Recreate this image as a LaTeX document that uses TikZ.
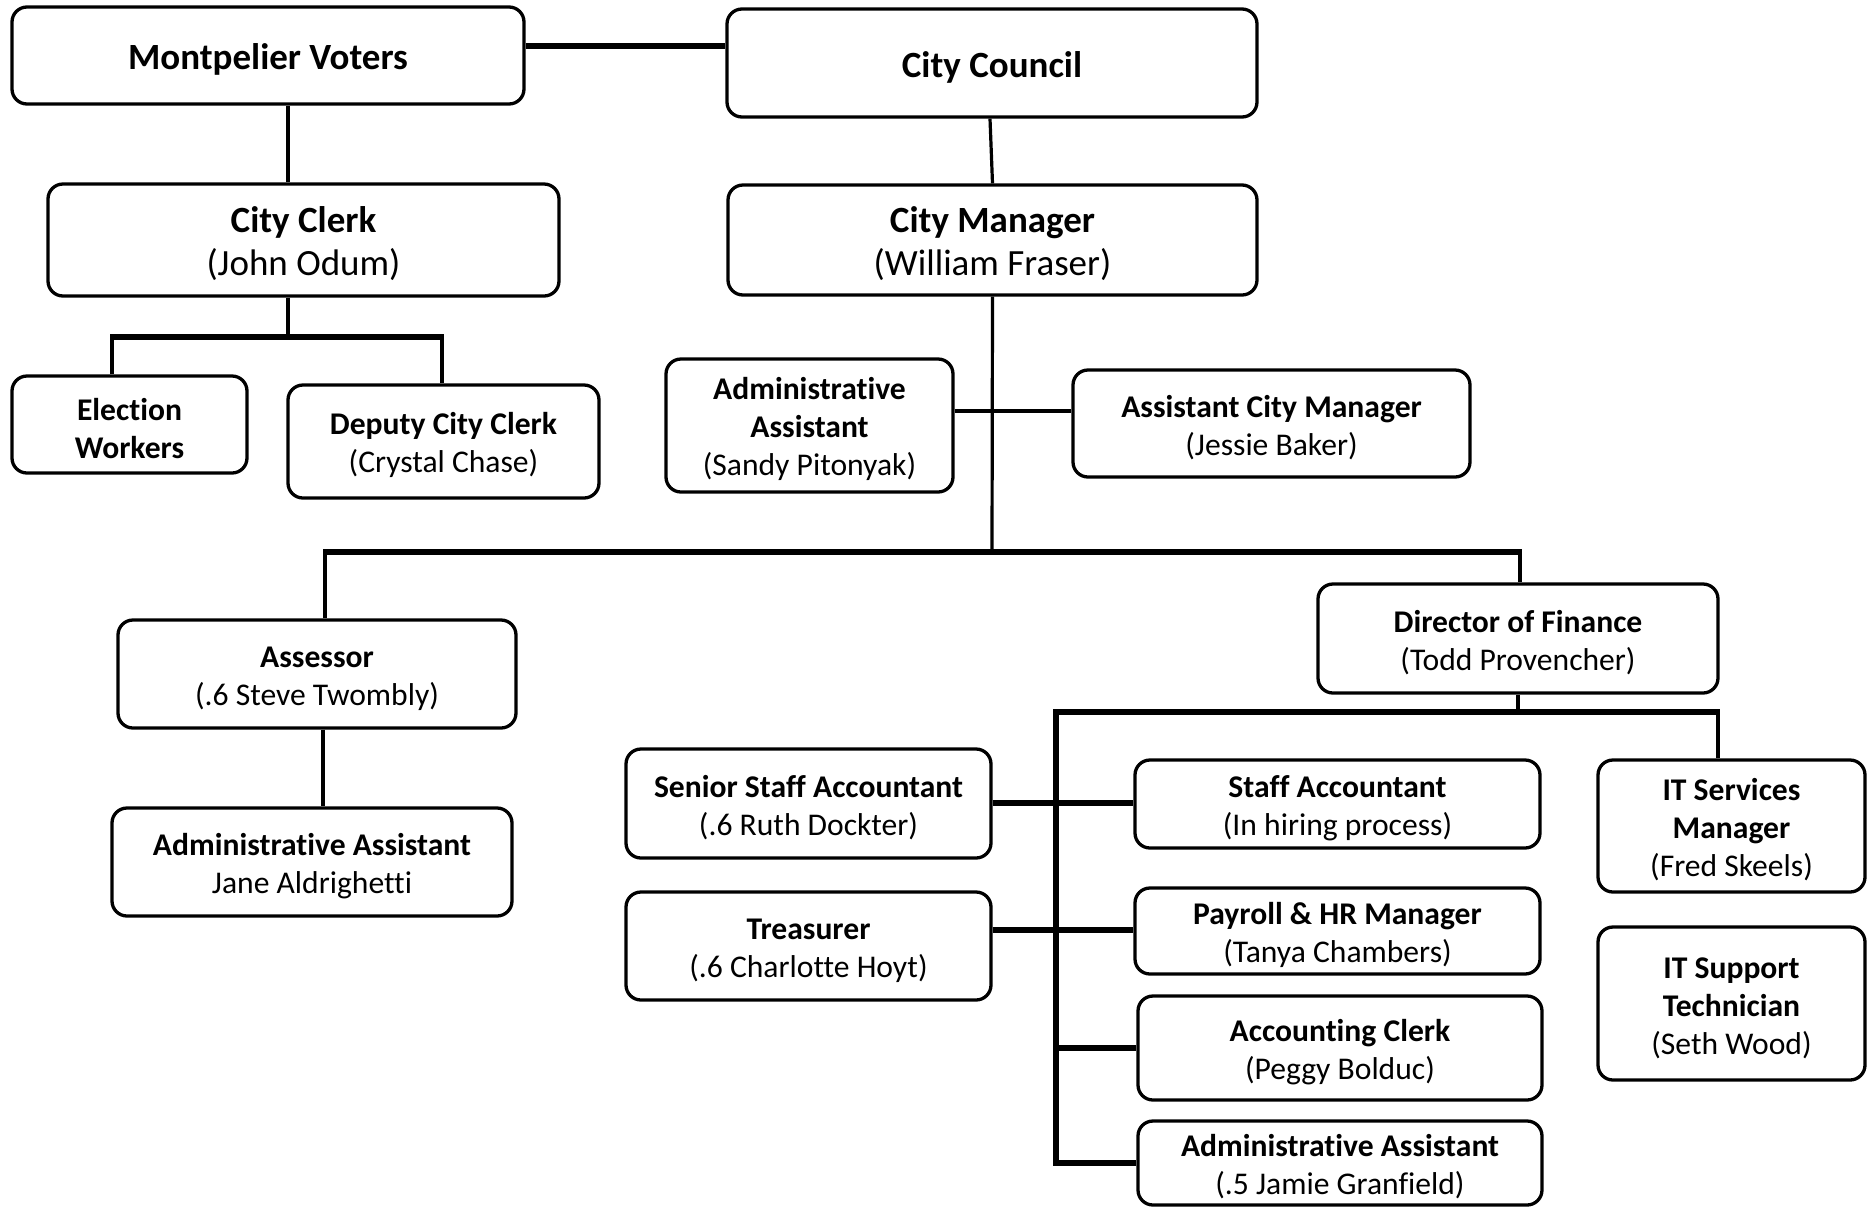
\documentclass[tikz,border=0pt]{standalone}
\usepackage{fontspec}
\setmainfont{Carlito}[Ligatures={NoCommon}]
\newcommand\sT{\rule{0pt}{\dimexpr0.72em+3.6pt\relax}}
\begin{document}
\begin{tikzpicture}[x=0.5pt,y=-0.5pt,
  box/.style={draw, line width=1.65pt, rounded corners=7.5pt, align=center, inner sep=0pt,
    font=\fontsize{15.8}{19}\selectfont},
  bigbox/.style={box, font=\fontsize{18.5}{21.5}\selectfont},
  thickln/.style={line width=2.6pt},
  medln/.style={line width=2pt},
  thinln/.style={line width=1.6pt}]
\useasboundingbox (0,0) rectangle (1870,1206);
% nodes
\node[bigbox, minimum width=256pt, minimum height=48.5pt] (voters) at (268,55.5) {\sT\textbf{Montpelier Voters}};
\node[bigbox, minimum width=265pt, minimum height=54pt] (council) at (992,63) {\sT\textbf{City Council}};
\node[bigbox, minimum width=255.5pt, minimum height=56pt] (clerk) at (303.5,240) {\sT\textbf{City Clerk}\\(John Odum)};
\node[bigbox, minimum width=264.5pt, minimum height=55pt] (manager) at (992.5,240) {\sT\textbf{City Manager}\\(William Fraser)};
\node[box, minimum width=117.5pt, minimum height=48.5pt] (election) at (129.5,424.5) {\sT\textbf{Election}\\\textbf{Workers}};
\node[box, minimum width=155.5pt, minimum height=56.5pt] (deputy) at (443.5,441.5) {\sT\textbf{Deputy City Clerk}\\(Crystal Chase)};
\node[box, minimum width=143.5pt, minimum height=66.5pt] (adminS) at (809.5,425.5) {\sT\textbf{Administrative}\\\textbf{Assistant}\\(Sandy Pitonyak)};
\node[box, minimum width=198.5pt, minimum height=53.5pt] (acm) at (1271.5,423.5) {\sT\textbf{Assistant City Manager}\\(Jessie Baker)};
\node[box, minimum width=199pt, minimum height=54pt] (assessor) at (317,674) {\sT\textbf{Assessor}\\(.6 Steve Twombly)};
\node[box, minimum width=200pt, minimum height=54pt] (adminJ) at (312,862) {\sT\textbf{Administrative Assistant}\\Jane Aldrighetti};
\node[box, minimum width=200pt, minimum height=54.5pt] (director) at (1518,638.5) {\sT\textbf{Director of Finance}\\(Todd Provencher)};
\node[box, minimum width=182.5pt, minimum height=54.5pt] (ssa) at (808.5,803.5) {\sT\textbf{Senior Staff Accountant}\\(.6 Ruth Dockter)};
\node[box, minimum width=182.5pt, minimum height=54pt] (treasurer) at (808.5,946) {\sT\textbf{Treasurer}\\(.6 Charlotte Hoyt)};
\node[box, minimum width=202.5pt, minimum height=44pt] (staffacc) at (1337.5,804) {\sT\textbf{Staff Accountant}\\(In hiring process)};
\node[box, minimum width=202.5pt, minimum height=43pt] (payroll) at (1337.5,931) {\sT\textbf{Payroll \& HR Manager}\\(Tanya Chambers)};
\node[box, minimum width=202pt, minimum height=52pt] (acctclerk) at (1340,1048) {\sT\textbf{Accounting Clerk}\\(Peggy Bolduc)};
\node[box, minimum width=202pt, minimum height=42pt] (jamie) at (1340,1163) {\sT\textbf{Administrative Assistant}\\(.5 Jamie Granfield)};
\node[box, minimum width=133.5pt, minimum height=66pt] (itsm) at (1731.5,826) {\sT\textbf{IT Services}\\\textbf{Manager}\\(Fred Skeels)};
\node[box, minimum width=133.5pt, minimum height=76.5pt] (itst) at (1731.5,1003.5) {\sT\textbf{IT Support}\\\textbf{Technician}\\(Seth Wood)};
% connectors
\coordinate (vc) at ([yshift=4.75pt]voters.east);
\draw[thickln] (vc) -- (vc -| council.west);
\coordinate (c1) at ([xshift=-7.75pt]clerk.north);
\draw[thinln] (c1) -- (c1 |- voters.south);
\draw[thinln] ([xshift=-1pt]council.south) -- (manager.north);
\coordinate (c2) at ([xshift=-7.75pt]clerk.south);
\coordinate (cb) at (288,337);
\coordinate (eN) at ([xshift=-8.75pt]election.north);
\coordinate (dN) at ([xshift=-0.75pt]deputy.north);
\draw[thinln] (c2) -- (cb);
\draw[medln] (eN) -- (eN |- cb);
\draw[medln] (dN) -- (dN |- cb);
\draw[thickln] ([xshift=-1pt]eN |- cb) -- ([xshift=1pt]dN |- cb);
\coordinate (mbar) at (992,552);
\draw[thinln] (manager.south) -- (mbar);
\coordinate (aN) at ([xshift=4pt]assessor.north);
\coordinate (dfN) at ([xshift=1pt]director.north);
\draw[medln] (aN) -- (aN |- mbar);
\draw[medln] (dfN) -- (dfN |- mbar);
\draw[thickln] ([xshift=-1pt]aN |- mbar) -- ([xshift=1pt]dfN |- mbar);
\coordinate (sa) at ([yshift=7.25pt]adminS.east);
\draw[medln] (sa) -- (sa -| acm.west);
\coordinate (aS) at ([xshift=3pt]assessor.south);
\draw[thinln] (aS) -- (aS |- adminJ.north);
\coordinate (fL) at (1056,712);
\coordinate (iN) at ([xshift=-6.75pt]itsm.north);
\draw[medln] (director.south) -- (director.south |- fL);
\draw[medln] (iN) -- (iN |- fL);
\draw[thickln] (jamie.west) -- (fL |- jamie.west) -- (fL) -- ([xshift=1pt]fL -| iN);
\draw[thickln] (fL |- acctclerk.west) -- (acctclerk.west);
\coordinate (sE) at ([yshift=0.25pt]ssa.east);
\draw[thickln] (sE) -- (sE -| staffacc.west);
\coordinate (tE) at ([yshift=8pt]treasurer.east);
\draw[thickln] (tE) -- (tE -| payroll.west);
\end{tikzpicture}
\end{document}
